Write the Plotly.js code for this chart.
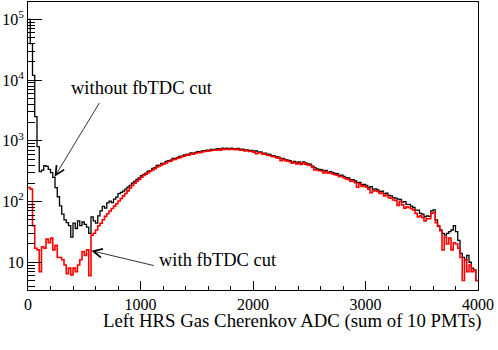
<!DOCTYPE html>
<html>
<head>
<meta charset="utf-8">
<script src="https://cdn.plot.ly/plotly-3.0.1.min.js"></script>
<style>
  html, body { margin: 0; padding: 0; background: #fff; }
  #chart { width: 498px; height: 350px; }
</style>
</head>
<body>
<div id="chart"></div>
<script>
// histogram binning: 200 bins of 20 ADC channels, 0..4000
const BIN_LO = 0;
const BIN_W  = 20;

// counts per bin, without fbTDC cut (black)
const countsNoCut = [
  100000, 40000, 12000, 2500, 800, 310, 330, 390, 380, 340,
  300, 250, 170, 120, 85, 62, 50, 45, 40, 26,
  44, 36, 48, 40, 46, 42, 38, 30, 56, 48,
  44, 58, 70, 83, 78, 95, 102, 96, 110, 118,
  135, 142, 148, 160, 172, 185, 200, 214, 232, 246,
  266, 280, 294, 318, 324, 352, 362, 394, 398, 424,
  430, 458, 470, 482, 512, 516, 534, 556, 562, 584,
  598, 604, 632, 622, 648, 664, 660, 684, 690, 702,
  698, 724, 716, 730, 744, 728, 756, 742, 760, 736,
  758, 744, 736, 748, 720, 730, 708, 712, 690, 696,
  674, 680, 652, 656, 628, 624, 602, 598, 570, 566,
  548, 540, 512, 516, 488, 482, 470, 446, 458, 432,
  448, 424, 452, 432, 418, 412, 384, 362, 344, 338,
  334, 320, 326, 306, 312, 298, 290, 288, 270, 272,
  260, 248, 246, 228, 230, 218, 206, 206, 190, 192,
  184, 170, 176, 160, 162, 156, 146, 148, 134, 138,
  126, 124, 116, 114, 110, 108, 98, 100, 90, 90,
  84, 80, 72, 72, 64, 62, 56, 58, 57, 70,
  73, 50, 39, 34, 30, 28, 30, 32, 34, 40,
  32, 23, 14, 12, 11, 13, 10, 8, 7.5, 5
];

// counts per bin, with fbTDC cut (red)
const countsCut = [
  170, 160, 40, 17, 16, 7, 18, 17, 24, 21,
  25, 16, 19, 12, 12, 11, 9, 6.5, 8, 6.2,
  8, 7, 9, 11, 15, 13, 16, 6, 28, 30,
  34, 40, 44, 50, 57, 63, 70, 77, 84, 92,
  102, 112, 124, 136, 150, 168, 184, 200, 216, 232,
  252, 270, 282, 300, 316, 330, 348, 372, 386, 400,
  418, 432, 456, 462, 490, 494, 520, 528, 548, 556,
  582, 580, 610, 600, 626, 640, 636, 656, 666, 676,
  680, 696, 700, 704, 722, 704, 730, 722, 734, 718,
  730, 724, 712, 724, 698, 706, 680, 692, 668, 672,
  652, 612, 632, 634, 604, 604, 580, 576, 552, 546,
  530, 520, 470, 496, 472, 464, 452, 430, 440, 416,
  430, 408, 434, 414, 402, 396, 366, 330, 330, 322,
  320, 296, 312, 292, 298, 284, 276, 272, 256, 258,
  246, 236, 232, 216, 218, 204, 172, 196, 178, 182,
  172, 160, 140, 150, 152, 146, 136, 138, 124, 128,
  116, 114, 106, 104, 86, 100, 88, 78, 82, 80,
  76, 72, 64, 56, 58, 54, 48, 52, 52, 64,
  66, 45, 40, 33, 16, 26, 20, 25, 16, 21,
  20, 17, 12, 5, 11, 7, 9, 7, 7.5, 5
];

const xTickVals = [0, 1000, 2000, 3000, 4000];
const yTickVals = [10, 100, 1000, 10000, 100000];
const yTickText = ['10', '10<sup>2</sup>', '10<sup>3</sup>', '10<sup>4</sup>', '10<sup>5</sup>'];
const xTitle    = 'Left HRS Gas Cherenkov ADC (sum of 10 PMTs)';

const FONT = '"Liberation Serif", "DejaVu Serif", serif';

// step trace: bin left edges plus closing edge
function histTrace(counts, color, width) {
  const x = counts.map((_, i) => BIN_LO + i * BIN_W);
  x.push(BIN_LO + counts.length * BIN_W);
  const y = counts.concat([counts[counts.length - 1]]);
  return {
    x, y, mode: 'lines', type: 'scatter',
    line: { shape: 'hv', color, width },
    hoverinfo: 'skip', showlegend: false
  };
}

const traces = [
  histTrace(countsNoCut, '#000000', 1.3),
  histTrace(countsCut, '#ff0000', 1.6)
];

const arrowStyle = {
  text: '', showarrow: true, arrowhead: 5, arrowsize: 2.2, arrowwidth: 0.8,
  arrowcolor: '#000', xref: 'x', yref: 'y', axref: 'x', ayref: 'y'
};

const layout = {
  width: 498, height: 350,
  margin: { l: 28, r: 20, t: 2, b: 60 },
  paper_bgcolor: '#fff', plot_bgcolor: '#fff',
  font: { family: FONT, color: '#000', size: 16 },
  xaxis: {
    range: [0, 4000],
    tickvals: xTickVals, ticks: 'inside', ticklen: 9, tickwidth: 1, tickcolor: '#000',
    minor: { dtick: 200, ticks: 'inside', ticklen: 4.5, tickwidth: 1, tickcolor: '#000', showgrid: false },
    showline: true, mirror: true, linecolor: '#000', linewidth: 1,
    showgrid: false, zeroline: false,
    tickfont: { family: FONT, size: 16, color: '#000' }
  },
  yaxis: {
    type: 'log', range: [0.543, 5.287],
    tickvals: yTickVals, ticktext: yTickText,
    ticks: 'inside', ticklen: 14, tickwidth: 1, tickcolor: '#000',
    minor: { dtick: 'D1', ticks: 'inside', ticklen: 7, tickwidth: 1, tickcolor: '#000', showgrid: false },
    showline: true, mirror: true, linecolor: '#000', linewidth: 1,
    showgrid: false, zeroline: false,
    tickfont: { family: FONT, size: 16, color: '#000' }
  },
  annotations: [
    { text: 'without fbTDC cut', showarrow: false, xref: 'x', yref: 'y',
      x: 1011, y: 3.876, xanchor: 'center', yanchor: 'middle',
      font: { family: FONT, size: 18.5, color: '#000' } },
    { text: 'with fbTDC cut', showarrow: false, xref: 'x', yref: 'y',
      x: 1148, y: 1.04, xanchor: 'left', yanchor: 'middle',
      font: { family: FONT, size: 18.5, color: '#000' } },
    Object.assign({}, arrowStyle, { x: 237, y: 2.41, ax: 643, ay: 3.65 }),
    Object.assign({}, arrowStyle, { x: 563, y: 1.19, ax: 1131, ay: 0.94 }),
    { text: xTitle, showarrow: false, xref: 'paper', yref: 'paper',
      x: 1.011, y: -0.106, xanchor: 'right', yanchor: 'middle',
      font: { family: FONT, size: 18.8, color: '#000' } }
  ]
};

Plotly.newPlot('chart', traces, layout, { staticPlot: true, displayModeBar: false });
</script>
</body>
</html>
